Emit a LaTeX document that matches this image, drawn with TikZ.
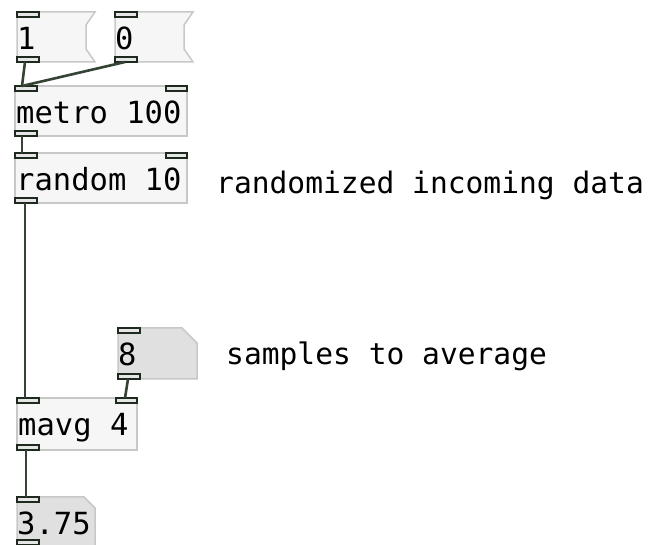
\documentclass[tikz,border=0pt]{standalone}
\usepackage{fontspec}
\setmonofont{DejaVu Sans Mono}
\definecolor{boxfill}{HTML}{F6F6F6}
\definecolor{boxline}{HTML}{C8C8C8}
\definecolor{numfill}{HTML}{E0E0E0}
\definecolor{iolet}{HTML}{1E2A1E}
\definecolor{iofill}{HTML}{E6E6E6}
\definecolor{wire}{HTML}{354335}
\begin{document}
\begin{tikzpicture}[x=1pt,y=-1pt,
  objbox/.style={draw=boxline,fill=boxfill,line width=1.5pt},
  numbox/.style={draw=boxline,fill=numfill,line width=1.5pt},
  port/.style={draw=iolet,fill=iofill,line width=1.8pt},
  wirestyle/.style={draw=wire,line width=2.6pt},
  txt/.style={font=\ttfamily\fontsize{30.5}{31}\selectfont,inner sep=0pt,anchor=base west},
  cmt/.style={font=\ttfamily\fontsize{29.6}{30}\selectfont,inner sep=0pt,anchor=base west}]
\useasboundingbox (0,0) rectangle (649,545);
\fill[white] (0,0) rectangle (649,545);

% message box "1"
\path[objbox] (17,12) -- (95,12) -- (86,25) -- (86,49) -- (95,62) -- (17,62) -- cycle;
\node[txt] (m1) at (17,50) {1};
% message box "0"
\path[objbox] (115,12) -- (193,12) -- (184,25) -- (184,49) -- (193,62) -- (115,62) -- cycle;
\node[txt] (m0) at (115,50) {0};
% metro 100
\path[objbox] (15,86) rectangle (187,136);
\node[txt] (metro) at (16,124) {metro 100};
% random 10
\path[objbox] (15,153) rectangle (187,203);
\node[txt] (random) at (16,191) {random 10};
\node[cmt] (c1) at (216,194) {randomized incoming data};
% number 8
\path[numbox] (118,328) -- (182,328) -- (197,343) -- (197,379) -- (118,379) -- cycle;
\node[txt] (n8) at (118,366) {8};
\node[cmt] (c2) at (226,365) {samples to average};
% mavg 4
\path[objbox] (17,398) rectangle (137,450);
\node[txt] (mavg) at (18,436) {mavg 4};
% number 3.75
\path[numbox] (17,497) -- (84,497) -- (95,508) -- (95,550) -- (17,550) -- cycle;
\node[txt] (out) at (17,535) {3.75};

% ports
\path[port] (17,12) rectangle (39,17);
\path[port] (17,57) rectangle (39,62);
\path[port] (115,12) rectangle (137,17);
\path[port] (115,57) rectangle (137,62);
\path[port] (15,86) rectangle (37,91);
\path[port] (166,86) rectangle (187,91);
\path[port] (15,131) rectangle (37,136);
\path[port] (15,153) rectangle (37,158);
\path[port] (166,153) rectangle (187,158);
\path[port] (15,198) rectangle (37,203);
\path[port] (118,328) rectangle (140,333);
\path[port] (118,374) rectangle (140,379);
\path[port] (17,398) rectangle (39,403);
\path[port] (116,398) rectangle (137,403);
\path[port] (17,445) rectangle (39,450);
\path[port] (17,497) rectangle (39,502);
\path[port] (17,540) rectangle (39,545);

% connection endpoints
\coordinate (o1) at (25,62);
\coordinate (o0) at (125,62);
\coordinate (imetro) at (22,86);
\coordinate (ometro) at (22,136);
\coordinate (irandom) at (22,153);
\coordinate (orandom) at (25,203);
\coordinate (imavgL) at (25,398);
\coordinate (o8) at (128,379);
\coordinate (imavgR) at (125,398);
\coordinate (omavg) at (26,450);
\coordinate (iout) at (26,497);

\draw[wirestyle] (o1) -- (imetro);
\draw[wirestyle] (o0) -- (imetro);
\draw[wirestyle] (ometro) -- (irandom);
\draw[wirestyle] (orandom) -- (imavgL);
\draw[wirestyle] (o8) -- (imavgR);
\draw[wirestyle] (omavg) -- (iout);
\end{tikzpicture}
\end{document}
